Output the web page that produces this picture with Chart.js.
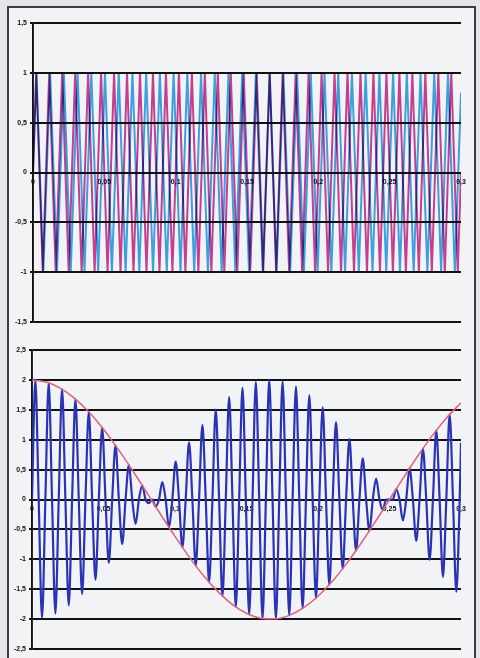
<!DOCTYPE html>
<html><head><meta charset="utf-8">
<script src="https://cdn.jsdelivr.net/npm/chart.js@4/dist/chart.umd.min.js"></script>
<style>
html,body{margin:0;padding:0;}
body{width:480px;height:658px;background:#e4e5e8;position:relative;overflow:hidden;}
#frame{position:absolute;left:7px;top:6px;width:469px;height:660px;border:2px solid #3c3c3e;border-bottom:none;background:#f2f3f5;box-sizing:border-box;}
canvas{position:absolute;left:0;}
#c1{top:0;}
#c2{top:330px;}
</style></head><body>
<div id="frame"></div>
<canvas id="c1" width="480" height="330"></canvas>
<canvas id="c2" width="480" height="328"></canvas>
<script>
// ---- top chart: two single tones (light blue, magenta) ----
const xTicks = [0, 0.05, 0.1, 0.15, 0.2, 0.25, 0.3];
const topYTicks = [-1.5, -1, -0.5, 0, 0.5, 1, 1.5];
const bottomYTicks = [-2.5, -2, -1.5, -1, -0.5, 0, 0.5, 1, 1.5, 2, 2.5];

const toneATime = [0, 0.00240, 0.00721, 0.01202, 0.01683, 0.02163, 0.02644, 0.03125, 0.03606, 0.04087,
  0.04567, 0.05048, 0.05529, 0.06010, 0.06490, 0.06971, 0.07452, 0.07933, 0.08413, 0.08894,
  0.09375, 0.09856, 0.10337, 0.10817, 0.11298, 0.11779, 0.12260, 0.12740, 0.13221, 0.13702,
  0.14183, 0.14663, 0.15144, 0.15625, 0.16106, 0.16587, 0.17067, 0.17548, 0.18029, 0.18510,
  0.18990, 0.19471, 0.19952, 0.20433, 0.20913, 0.21394, 0.21875, 0.22356, 0.22837, 0.23317,
  0.23798, 0.24279, 0.24760, 0.25240, 0.25721, 0.26202, 0.26683, 0.27163, 0.27644, 0.28125,
  0.28606, 0.29087, 0.29567, 0.3];
const toneAValue = [0,
  1,-1,1,-1,1,-1,1,-1,1,-1,1,-1,1,-1,1,-1,
  1,-1,1,-1,1,-1,1,-1,1,-1,1,-1,1,-1,1,-1,
  1,-1,1,-1,1,-1,1,-1,1,-1,1,-1,1,-1,1,-1,
  1,-1,1,-1,1,-1,1,-1,1,-1,1,-1,1,-1,
  0.8];

const toneBTime = [0, 0.00227, 0.00682, 0.01136, 0.01591, 0.02045, 0.02500, 0.02955, 0.03409, 0.03864,
  0.04318, 0.04773, 0.05227, 0.05682, 0.06136, 0.06591, 0.07045, 0.07500, 0.07955, 0.08409,
  0.08864, 0.09318, 0.09773, 0.10227, 0.10682, 0.11136, 0.11591, 0.12045, 0.12500, 0.12955,
  0.13409, 0.13864, 0.14318, 0.14773, 0.15227, 0.15682, 0.16136, 0.16591, 0.17045, 0.17500,
  0.17955, 0.18409, 0.18864, 0.19318, 0.19773, 0.20227, 0.20682, 0.21136, 0.21591, 0.22045,
  0.22500, 0.22955, 0.23409, 0.23864, 0.24318, 0.24773, 0.25227, 0.25682, 0.26136, 0.26591,
  0.27045, 0.27500, 0.27955, 0.28409, 0.28864, 0.29318, 0.29773, 0.3];
const toneBValue = [0,
  1,-1,1,-1,1,-1,1,-1,1,-1,1,-1,1,-1,1,-1,
  1,-1,1,-1,1,-1,1,-1,1,-1,1,-1,1,-1,1,-1,
  1,-1,1,-1,1,-1,1,-1,1,-1,1,-1,1,-1,1,-1,
  1,-1,1,-1,1,-1,1,-1,1,-1,1,-1,1,-1,1,-1,1,-1,
  0];

// ---- bottom chart: beat signal and its envelope ----
const beatTime = [0, 0.00234, 0.00467, 0.00701, 0.00935, 0.01168, 0.01402, 0.01636, 0.01869, 0.02103,
  0.02336, 0.02570, 0.02804, 0.03037, 0.03271, 0.03505, 0.03738, 0.03972, 0.04206, 0.04439,
  0.04673, 0.04907, 0.05140, 0.05374, 0.05607, 0.05841, 0.06075, 0.06308, 0.06542, 0.06776,
  0.07009, 0.07243, 0.07477, 0.07710, 0.07944, 0.08178, 0.08411, 0.08645, 0.08879, 0.09112,
  0.09346, 0.09579, 0.09813, 0.10047, 0.10280, 0.10514, 0.10748, 0.10981, 0.11215, 0.11449,
  0.11682, 0.11916, 0.12150, 0.12383, 0.12617, 0.12850, 0.13084, 0.13318, 0.13551, 0.13785,
  0.14019, 0.14252, 0.14486, 0.14720, 0.14953, 0.15187, 0.15421, 0.15654, 0.15888, 0.16121,
  0.16355, 0.16589, 0.16822, 0.17056, 0.17290, 0.17523, 0.17757, 0.17991, 0.18224, 0.18458,
  0.18692, 0.18925, 0.19159, 0.19393, 0.19626, 0.19860, 0.20093, 0.20327, 0.20561, 0.20794,
  0.21028, 0.21262, 0.21495, 0.21729, 0.21963, 0.22196, 0.22430, 0.22664, 0.22897, 0.23131,
  0.23364, 0.23598, 0.23832, 0.24065, 0.24299, 0.24533, 0.24766, 0.25000, 0.25234, 0.25467,
  0.25701, 0.25935, 0.26168, 0.26402, 0.26636, 0.26869, 0.27103, 0.27336, 0.27570, 0.27804,
  0.28037, 0.28271, 0.28505, 0.28738, 0.28972, 0.29206, 0.29439, 0.29673, 0.29907, 0.3];
const beatValue = [0, 1.998, 0, -1.983, 0, 1.952, 0, -1.906, 0, 1.845,
  0, -1.770, 0, 1.681, 0, -1.579, 0, 1.464, 0, -1.339,
  0, 1.204, 0, -1.059, 0, 0.905, 0, -0.745, 0, 0.579,
  0, -0.408, 0, 0.234, 0, -0.059, 0, -0.117, 0, 0.293,
  0, -0.465, 0, 0.635, 0, -0.799, 0, 0.957, 0, -1.108,
  0, 1.250, 0, -1.382, 0, 1.504, 0, -1.614, 0, 1.712,
  0, -1.797, 0, 1.867, 0, -1.923, 0, 1.964, 0, -1.989,
  0, 2.000, 0, -1.995, 0, 1.974, 0, -1.938, 0, 1.887,
  0, -1.821, 0, 1.742, 0, -1.648, 0, 1.543, 0, -1.425,
  0, 1.295, 0, -1.156, 0, 1.008, 0, -0.853, 0, 0.690,
  0, -0.522, 0, 0.351, 0, -0.176, 0, 0, 0, 0.176,
  0, -0.351, 0, 0.522, 0, -0.690, 0, 0.853, 0, -1.008,
  0, 1.156, 0, -1.295, 0, 1.425, 0, -1.543, 0, 0.951];

const envTime = [0, 0.01, 0.02, 0.03, 0.04, 0.05, 0.06, 0.07, 0.08, 0.09, 0.10,
  0.11, 0.12, 0.13, 0.14, 0.15, 0.16, 0.17, 0.18, 0.19, 0.20,
  0.21, 0.22, 0.23, 0.24, 0.25, 0.26, 0.27, 0.28, 0.29, 0.30];
const envValue = [2.000, 1.965, 1.859, 1.688, 1.458, 1.176, 0.851, 0.497, 0.126, -0.251, -0.618,
  -0.963, -1.275, -1.541, -1.753, -1.902, -1.984, -1.996, -1.937, -1.810, -1.618,
  -1.369, -1.072, -0.736, -0.375, 0.000, 0.375, 0.736, 1.072, 1.369, 1.618];

const pts = (xs, ys) => xs.map((x, i) => ({x: x, y: ys[i]}));
const fmt = v => String(Number(Number(v).toFixed(2))).replace('.', ',');
const tickFont = {family: "'Liberation Sans', Arial, sans-serif", size: 7, weight: 'bold'};

function makeOptions(yTicks, padTop, padBottom, yWidth) {
  return {
    responsive: false, animation: false, devicePixelRatio: 1,
    layout: {padding: {top: padTop, bottom: padBottom, left: 0, right: 19}},
    plugins: {legend: {display: false}, tooltip: {enabled: false}},
    elements: {point: {radius: 0}},
    scales: {
      x: {
        type: 'linear', min: xTicks[0], max: xTicks[xTicks.length - 1], position: {y: 0},
        grid: {display: false, drawTicks: false},
        border: {display: false},
        afterBuildTicks: s => { s.ticks = xTicks.map(v => ({value: v})); },
        ticks: {padding: 5, color: '#111', font: tickFont, callback: fmt, maxRotation: 0, autoSkip: false}
      },
      y: {
        type: 'linear', min: yTicks[0], max: yTicks[yTicks.length - 1],
        grid: {color: '#121212', lineWidth: 1.9, tickLength: 3},
        border: {display: true, color: '#121212', width: 1.9},
        afterBuildTicks: s => { s.ticks = yTicks.map(v => ({value: v})); },
        ticks: {padding: 3, color: '#111', font: tickFont, callback: fmt},
        afterFit: s => { s.width = yWidth; }
      }
    }
  };
}

const multiply = {
  id: 'multiply',
  beforeDatasetsDraw(c) { c.ctx.save(); c.ctx.globalCompositeOperation = 'multiply'; },
  afterDatasetsDraw(c) { c.ctx.restore(); }
};

new Chart(document.getElementById('c1'), {
  type: 'line',
  data: {datasets: [
    {data: pts(toneATime, toneAValue), borderColor: '#3b9fe0', borderWidth: 2, tension: 0, fill: false},
    {data: pts(toneBTime, toneBValue), borderColor: '#c63e8e', borderWidth: 2, tension: 0, fill: false}
  ]},
  options: makeOptions(topYTicks, 23, 8, 33),
  plugins: [multiply]
});

new Chart(document.getElementById('c2'), {
  type: 'line',
  data: {datasets: [
    {data: pts(envTime, envValue), borderColor: '#e2607a', borderWidth: 1.5, cubicInterpolationMode: 'monotone', fill: false},
    {data: pts(beatTime, beatValue), borderColor: '#2a33b6', borderWidth: 2.2, cubicInterpolationMode: 'monotone', fill: false}
  ]},
  options: makeOptions(bottomYTicks, 20, 9, 32)
});
</script>
</body></html>
